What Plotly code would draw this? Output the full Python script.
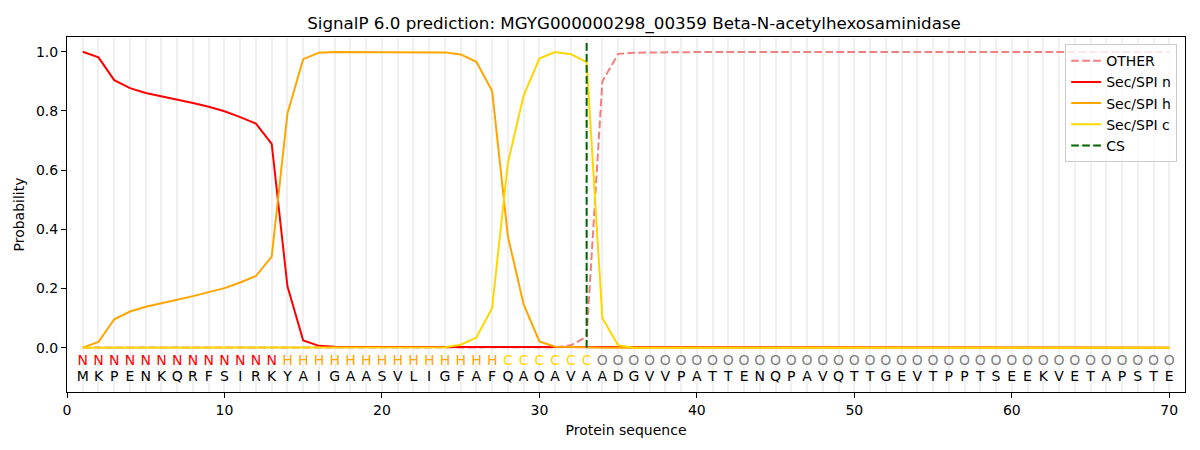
import plotly.graph_objects as go

# SignalP 6.0 output for MGYG000000298_00359
sequence = "MKPENKQRFSIRKYAIGAASVLIGFAFQAQAVAADGVVPATTENQPAVQTTGEVTPPTSEEKVETAPSTE"
regionLabels = "N" * 13 + "H" * 14 + "C" * 6 + "O" * 37
positions = list(range(1, len(sequence) + 1))
csSite = 33

probOther = [0.0] * 30 + [0.001, 0.008, 0.037, 0.900, 0.993, 0.997, 0.998] + [0.999] * 33

probSecN = [1.000, 0.981, 0.904, 0.877, 0.861, 0.850, 0.838, 0.827, 0.814, 0.799,
            0.779, 0.757, 0.689, 0.207, 0.024, 0.006, 0.003, 0.002, 0.002, 0.002,
            0.002, 0.002, 0.002, 0.002, 0.002, 0.002, 0.002, 0.002, 0.002, 0.002,
            0.002, 0.002, 0.002] + [0.0] * 37

probSecH = [0.000, 0.019, 0.096, 0.122, 0.138, 0.149, 0.162, 0.174, 0.188, 0.201,
            0.220, 0.242, 0.308, 0.792, 0.975, 0.997, 0.999, 0.999, 0.999, 0.999,
            0.999, 0.999, 0.999, 0.998, 0.991, 0.966, 0.867, 0.376, 0.146, 0.021,
            0.003, 0.001, 0.001] + [0.0] * 37

probSecC = [0.0] * 23 + [0.001, 0.010, 0.034, 0.134, 0.625, 0.852, 0.977,
                         0.999, 0.992, 0.965, 0.100, 0.008] + [0.0] * 35

labelColors = {"N": "red", "H": "orange", "C": "gold", "O": "grey"}

fontFamily = "DejaVu Sans"
dashStyle = "7.7px,3.3px"

fig = go.Figure()

fig.add_trace(go.Scatter(x=positions, y=probOther, mode="lines", name="OTHER",
                         line=dict(color="lightcoral", width=2, dash=dashStyle)))
fig.add_trace(go.Scatter(x=positions, y=probSecN, mode="lines", name="Sec/SPI n",
                         line=dict(color="red", width=2)))
fig.add_trace(go.Scatter(x=positions, y=probSecH, mode="lines", name="Sec/SPI h",
                         line=dict(color="orange", width=2)))
fig.add_trace(go.Scatter(x=positions, y=probSecC, mode="lines", name="Sec/SPI c",
                         line=dict(color="gold", width=2)))
fig.add_trace(go.Scatter(x=[csSite, csSite], y=[0, 1.035], mode="lines", name="CS",
                         line=dict(color="darkgreen", width=2, dash=dashStyle)))

# region letters and residues under the curves
fig.add_trace(go.Scatter(x=positions, y=[-0.047] * len(positions), mode="text",
                         text=list(regionLabels), showlegend=False, hoverinfo="skip",
                         textfont=dict(family=fontFamily, size=14,
                                       color=[labelColors[c] for c in regionLabels])))
fig.add_trace(go.Scatter(x=positions, y=[-0.10] * len(positions), mode="text",
                         text=list(sequence), showlegend=False, hoverinfo="skip",
                         textfont=dict(family=fontFamily, size=14, color="black")))

# the page puts the figure 8px in from the top left corner, so margins make up for it
fig.update_layout(
    width=1200, height=450,
    margin=dict(l=59, r=23, t=29, b=66, autoexpand=False),
    paper_bgcolor="white", plot_bgcolor="white",
    font=dict(family=fontFamily, size=14, color="black"),
    title=dict(text="SignalP 6.0 prediction: MGYG000000298_00359 Beta-N-acetylhexosaminidase",
               x=0.5217, xanchor="center", y=1 - 15 / 450, yanchor="middle", yref="container",
               font=dict(size=16.7)),
    legend=dict(x=0.993, y=0.98, xanchor="right", yanchor="top",
                bgcolor="rgba(255,255,255,0.8)", bordercolor="#cccccc", borderwidth=1,
                font=dict(size=14)),
    showlegend=True,
)

fig.update_xaxes(range=[0, 71], tickmode="array", tickvals=[0, 10, 20, 30, 40, 50, 60, 70],
                 ticks="outside", ticklen=5, tickcolor="black", automargin=False,
                 showline=True, linecolor="black", linewidth=1, mirror=True,
                 showgrid=True, gridcolor="#f0f0f0", gridwidth=2,
                 minor=dict(tickmode="linear", tick0=0, dtick=1, showgrid=True,
                            gridcolor="#f0f0f0", gridwidth=2, ticks=""),
                 zeroline=False,
                 title=dict(text="Protein sequence", standoff=8, font=dict(size=14)))
fig.update_yaxes(range=[-0.15, 1.05], tickmode="array", tickvals=[0, 0.2, 0.4, 0.6, 0.8, 1.0],
                 tickformat=".1f", ticks="outside", ticklen=5, tickcolor="black", automargin=False,
                 showline=True, linecolor="black", linewidth=1, mirror=True,
                 showgrid=False, zeroline=False,
                 title=dict(text="Probability", standoff=8, font=dict(size=14)))

fig.write_html("out.html")
